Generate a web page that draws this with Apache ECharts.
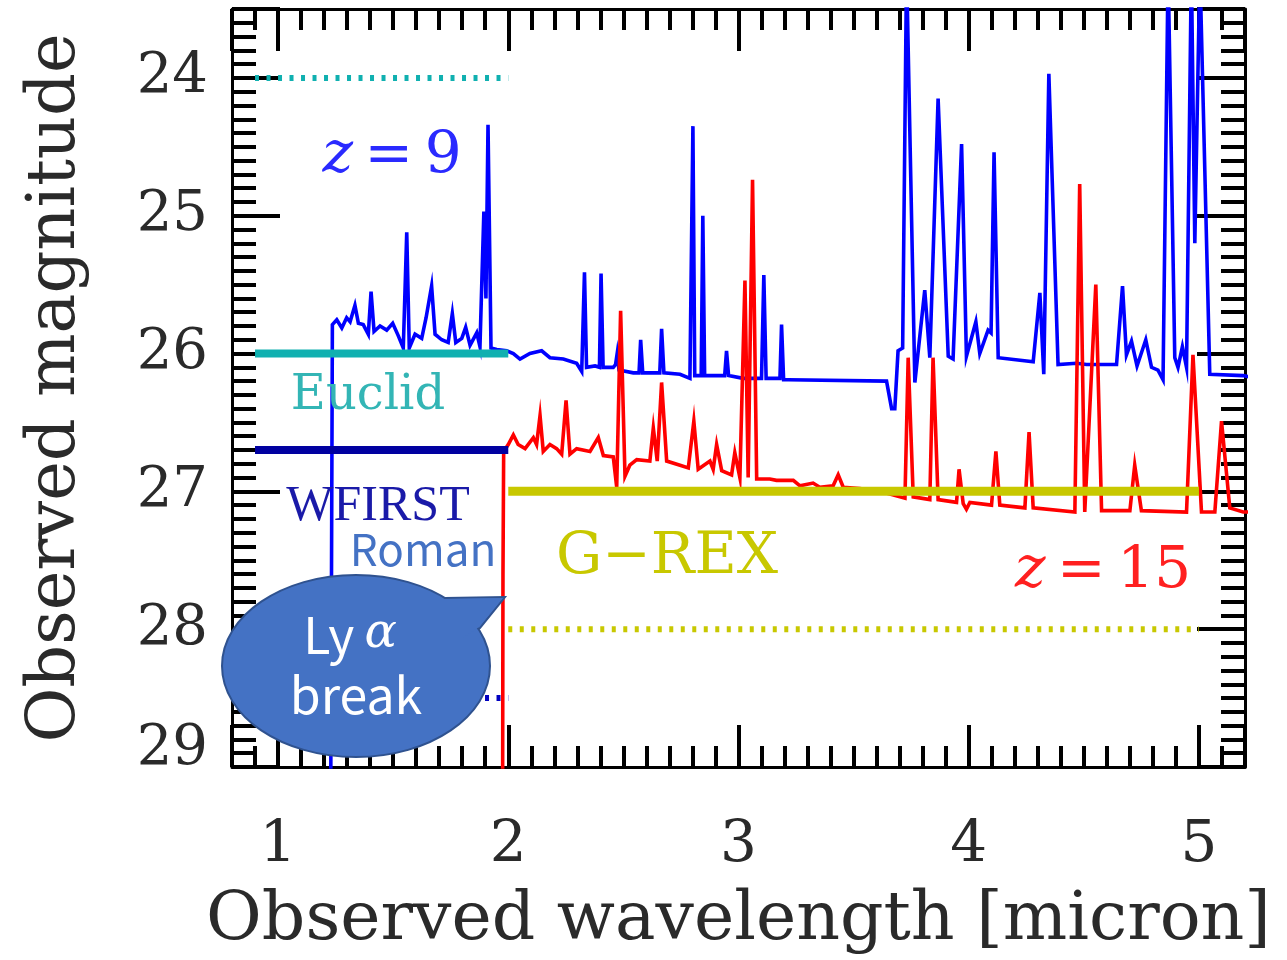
<!DOCTYPE html>
<html>
<head>
<meta charset="utf-8">
<script src="https://cdn.jsdelivr.net/npm/echarts@6/dist/echarts.min.js"></script>
<style>
html,body{margin:0;padding:0;background:#fff;}
#chart{width:1287px;height:960px;}
</style>
</head>
<body>
<div id="chart"></div>
<script>
// z=9 spectrum (observed wavelength [micron], observed magnitude)
const blueX = [1.228,1.236,1.255,1.277,1.298,1.313,1.334,1.349,1.370,1.392,1.404,1.417,1.443,1.472,1.498,1.522,1.544,1.559,1.570,1.595,1.624,1.643,1.667,1.682,1.711,1.739,1.757,1.772,1.798,1.815,1.834,1.863,1.877,1.894,1.903,1.912,1.925,1.950,1.993,2.022,2.051,2.094,2.145,2.181,2.239,2.297,2.319,2.331,2.340,2.377,2.396,2.403,2.412,2.456,2.466,2.473,2.481,2.543,2.568,2.575,2.584,2.630,2.658,2.666,2.676,2.746,2.789,2.795,2.802,2.810,2.838,2.845,2.853,2.919,2.940,2.948,2.957,3.020,3.100,3.110,3.120,3.165,3.180,3.187,3.196,3.216,3.643,3.665,3.679,3.693,3.713,3.730,3.766,3.809,3.831,3.867,3.911,3.932,3.969,3.990,4.031,4.048,4.084,4.097,4.110,4.128,4.280,4.309,4.326,4.348,4.388,4.468,4.512,4.642,4.668,4.685,4.707,4.731,4.769,4.794,4.822,4.844,4.866,4.895,4.909,4.928,4.946,4.967,4.982,5.004,5.047,5.192,5.220];
const blueMag = [29.6,25.79,25.755,25.815,25.74,25.77,25.65,25.78,25.79,25.86,25.55,25.84,25.80,25.83,25.78,25.87,25.96,25.12,25.96,25.86,25.89,25.74,25.51,25.86,25.90,25.92,25.71,25.92,25.89,25.81,25.94,25.85,25.95,24.97,25.60,24.34,25.96,25.97,25.98,26.00,26.04,26.00,25.98,26.03,26.04,26.07,26.13,25.41,26.10,26.09,26.10,25.42,26.10,26.10,26.08,26.00,26.12,26.14,26.14,25.90,26.14,26.14,26.14,25.82,26.14,26.15,26.18,26.17,24.35,26.16,26.16,25.00,26.16,26.16,26.16,25.98,26.16,26.18,26.18,25.43,26.18,26.18,26.18,25.79,26.19,26.19,26.20,26.40,26.40,25.98,25.96,23.2,26.21,25.54,26.03,24.15,26.02,26.04,24.48,26.02,25.77,26.00,25.83,25.85,24.54,26.03,26.06,25.56,26.15,23.97,26.08,26.07,26.08,26.08,25.51,26.01,25.91,26.09,25.90,26.10,26.12,26.19,23.2,26.03,26.10,25.95,26.10,23.2,25.2,23.2,26.15,26.16,26.17];

// z=15 spectrum
const redX = [1.975,1.977,1.980,2.000,2.022,2.043,2.073,2.109,2.123,2.138,2.152,2.181,2.210,2.232,2.251,2.268,2.297,2.355,2.391,2.413,2.456,2.471,2.488,2.507,2.528,2.558,2.615,2.630,2.647,2.666,2.688,2.746,2.782,2.806,2.825,2.876,2.890,2.905,2.927,2.970,2.984,3.006,3.028,3.042,3.061,3.079,3.136,3.165,3.238,3.267,3.324,3.353,3.411,3.433,3.455,3.527,3.614,3.701,3.723,3.737,3.759,3.831,3.845,3.867,3.947,3.958,3.976,3.990,4.005,4.099,4.118,4.135,4.244,4.262,4.280,4.461,4.482,4.504,4.552,4.577,4.700,4.721,4.750,4.946,4.974,5.011,5.069,5.098,5.134,5.192,5.220];
const redMag = [29.6,27.6,26.71,26.66,26.59,26.66,26.69,26.61,26.66,26.45,26.71,26.66,26.69,26.73,26.34,26.73,26.69,26.71,26.61,26.74,26.75,26.97,25.69,26.89,26.81,26.77,26.78,26.54,26.78,26.21,26.78,26.81,26.83,26.49,26.84,26.78,26.84,26.66,26.85,26.88,26.72,26.90,25.47,26.90,24.74,26.91,26.91,26.92,26.92,26.96,26.94,26.97,26.96,26.88,26.97,26.98,27.00,27.04,27.05,26.03,27.04,27.06,26.03,27.06,27.08,26.84,27.09,27.13,27.08,27.10,26.71,27.10,27.12,26.57,27.12,27.15,24.77,27.15,25.50,27.14,27.14,26.81,27.14,27.15,26.01,27.15,27.15,26.49,27.12,27.15,27.15];

// Instrument limits: wavelength ranges and magnitudes (solid, dotted)
const euclidRange = [0.9, 2.0];
const euclidMag = [26.0, 24.0];
const wfirstRange = [0.9, 2.0];
const wfirstMag = [26.7, 28.5];
const grexRange = [2.0, 5.0];
const grexMag = [27.0, 28.0];

// Axes
const xMin = 0.8, xMax = 5.2;
const yMin = 23.5, yMax = 29;

const zip = (xs, ys) => xs.map((x, i) => [x, ys[i]]);
const seg = (r, m) => [[r[0], m], [r[1], m]];

const serif = "'DejaVu Serif', serif";
const txt = '#2a2a2a';
const intOnly = v => {
  const r = Math.round(v);
  return Math.abs(v - r) < 1e-6 ? String(r) : '';
};

function xAx(pos, labels) {
  return {
    type: 'value', min: xMin, max: xMax, minInterval: 1, maxInterval: 1,
    position: pos,
    axisLine: {show: true, onZero: false, lineStyle: {color: '#000', width: 3}},
    axisTick: {show: true, inside: true, length: 42, lineStyle: {color: '#000', width: 4}},
    minorTick: {show: true, splitNumber: 10, length: 21, lineStyle: {color: '#000', width: 4}},
    splitLine: {show: false},
    axisLabel: labels ? {show: true, margin: 50, fontFamily: serif, fontSize: 58, color: txt, formatter: intOnly} : {show: false},
    name: labels ? 'Observed wavelength [micron]' : '',
    nameLocation: 'middle', nameGap: 120,
    nameTextStyle: {fontFamily: serif, fontSize: 68, color: txt}
  };
}
function yAx(pos, labels) {
  return {
    type: 'value', min: yMin, max: yMax, inverse: true, minInterval: 1, maxInterval: 1,
    position: pos,
    axisLine: {show: true, onZero: false, lineStyle: {color: '#000', width: 3}},
    axisTick: {show: true, inside: true, length: 48, lineStyle: {color: '#000', width: 4}},
    minorTick: {show: true, splitNumber: 10, length: 24, lineStyle: {color: '#000', width: 4}},
    splitLine: {show: false},
    axisLabel: labels ? {
      show: true, margin: 24, fontFamily: serif, fontSize: 56, color: txt,
      formatter: v => { const s = intOnly(v); return s === '29' ? '{up|29}' : s; },
      rich: {up: {fontFamily: serif, fontSize: 56, color: txt, padding: [0, 0, 36, 0]}}
    } : {show: false},
    name: labels ? 'Observed magnitude' : '',
    nameLocation: 'middle', nameGap: 142, nameRotate: 90,
    nameTextStyle: {fontFamily: serif, fontSize: 67, color: txt}
  };
}

function lim(data, color, width, dotted, z) {
  return {
    type: 'line', data: data, symbol: 'none', silent: true, z: z,
    lineStyle: {color: color, width: width, type: dotted ? [4, 7.5] : 'solid', cap: 'butt'}
  };
}

const chart = echarts.init(document.getElementById('chart'), null, {renderer: 'canvas'});
chart.setOption({
  animation: false,
  backgroundColor: '#fff',
  grid: {left: 232, right: 42, top: 9, bottom: 190, containLabel: false},
  xAxis: [xAx('bottom', true), xAx('top', false)],
  yAxis: [yAx('left', true), yAx('right', false)],
  series: [
    {type: 'line', data: zip(blueX, blueMag), symbol: 'none', clip: true, z: 2,
     lineStyle: {color: '#0000ff', width: 3.6, join: 'miter'}},
    {type: 'line', data: zip(redX, redMag), symbol: 'none', clip: true, z: 2,
     lineStyle: {color: '#ff0000', width: 3.6, join: 'miter'}},
    lim(seg(euclidRange, euclidMag[0]), '#10b0b0', 8, false, 3),
    lim(seg(euclidRange, euclidMag[1]), '#10b0b0', 6, true, 3),
    lim(seg(wfirstRange, wfirstMag[0]), '#0000a0', 8, false, 3),
    lim(seg(wfirstRange, wfirstMag[1]), '#0000c0', 6, true, 3),
    lim(seg(grexRange, grexMag[0]), '#c8c800', 9, false, 3),
    lim(seg(grexRange, grexMag[1]), '#c8c800', 6, true, 3)
  ],
  graphic: [
    {type: 'text', x: 392, y: 157, z: 10, style: {
      text: '{i|z}{n|\u2009=\u20099}', align: 'center', verticalAlign: 'middle',
      rich: {i: {fontFamily: serif, fontStyle: 'italic', fontSize: 58, fill: '#2a2aff'},
             n: {fontFamily: serif, fontSize: 58, fill: '#2a2aff'}}}},
    {type: 'text', x: 1103, y: 572, z: 10, style: {
      text: '{i|z}{n|\u2009=\u200915}', align: 'center', verticalAlign: 'middle',
      rich: {i: {fontFamily: serif, fontStyle: 'italic', fontSize: 58, fill: '#ff2020'},
             n: {fontFamily: serif, fontSize: 58, fill: '#ff2020'}}}},
    {type: 'text', x: 368, y: 397, z: 10, style: {text: 'Euclid', align: 'center', verticalAlign: 'middle',
      font: "48px 'DejaVu Serif'", fill: '#33b5b5'}},
    {type: 'text', x: 378, y: 507, z: 10, style: {text: 'WFIRST', align: 'center', verticalAlign: 'middle',
      font: "50px 'Liberation Serif'", fill: '#1a1aa8'}},
    {type: 'text', x: 423, y: 549, z: 10, style: {text: 'Roman', align: 'center', verticalAlign: 'middle',
      font: "44px 'Noto Sans CJK JP'", fill: '#4472c4'}},
    {type: 'text', x: 667, y: 558, z: 10, style: {text: 'G\u2212REX', align: 'center', verticalAlign: 'middle',
      font: "58px 'DejaVu Serif'", fill: '#c8c800'}},
    // callout
    {type: 'polygon', z: 20, shape: {points: [[445,598],[505,597],[480,628],[460,640],[430,610]]},
      style: {fill: '#4472c4', stroke: '#2f528f', lineWidth: 2}},
    {type: 'ellipse', z: 21, shape: {cx: 356, cy: 666, rx: 134, ry: 91},
      style: {fill: '#4472c4', stroke: '#2f528f', lineWidth: 2}},
    {type: 'polygon', z: 22, shape: {points: [[445,599],[503,598],[479,627],[460,640],[430,611]]},
      style: {fill: '#4472c4'}},
    {type: 'text', x: 350, y: 635, z: 23, style: {
      text: '{a|Ly\u2009}{b|\u03b1}', align: 'center', verticalAlign: 'middle',
      rich: {a: {fontFamily: "'Noto Sans CJK JP'", fontSize: 50, fill: '#fff'},
             b: {fontFamily: "'DejaVu Serif'", fontStyle: 'italic', fontSize: 48, fill: '#fff'}}}},
    {type: 'text', x: 356, y: 695, z: 23, style: {text: 'break', align: 'center', verticalAlign: 'middle',
      font: "50px 'Noto Sans CJK JP'", fill: '#fff'}}
  ]
});
</script>
</body>
</html>
